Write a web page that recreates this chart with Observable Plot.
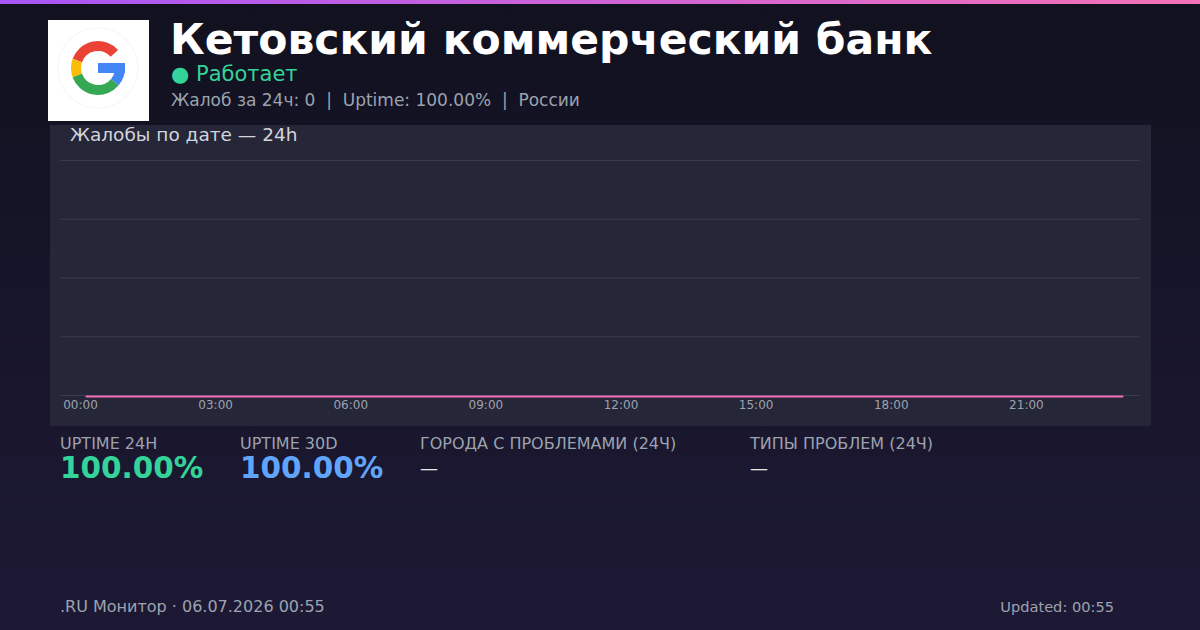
<!DOCTYPE html>
<html><head><meta charset="utf-8">
<script src="https://cdn.jsdelivr.net/npm/d3@7"></script>
<script src="https://cdn.jsdelivr.net/npm/@observablehq/plot@0.6"></script>
<style>
html,body{margin:0;padding:0;}
body{width:1200px;height:630px;overflow:hidden;font-family:"DejaVu Sans",sans-serif;}
#page{position:relative;width:1200px;height:630px;background:linear-gradient(180deg,#11111f 0%,#1d1935 100%);}
#topbar{position:absolute;left:0;top:0;width:1200px;height:4px;background:linear-gradient(90deg,#a855f7,#f472b6);}
#logo{position:absolute;left:48px;top:20px;width:101px;height:101px;background:#fff;}
#title{position:absolute;left:170px;top:19px;color:#fff;font-weight:bold;font-size:42.5px;line-height:42px;white-space:nowrap;}
#status{position:absolute;left:171px;top:62px;color:#34d399;font-size:21px;line-height:24px;}
#sub{position:absolute;left:171px;top:89px;color:#9ca3af;font-size:17px;line-height:22px;white-space:pre;}
#panel{position:absolute;left:50px;top:125px;width:1101px;height:301px;background:#262639;}
#ptitle{position:absolute;left:20px;top:-1px;color:#d1d5db;font-size:18.5px;line-height:22px;}
#chart{position:absolute;left:0;top:23px;}
.stat{position:absolute;top:434px;}
.stat .lab{color:#9ca3af;font-size:16px;line-height:19px;white-space:nowrap;}
.stat .val{font-size:29.5px;font-weight:bold;line-height:31px;}
.stat .dash{color:#e5e7eb;font-size:18px;line-height:29px;}
#foot{position:absolute;left:60px;top:597px;color:#9ca3af;font-size:16px;line-height:20px;}
#upd{position:absolute;right:86px;top:597px;color:#9ca3af;font-size:14.6px;line-height:20px;}
</style></head>
<body><div id="page">
<div id="topbar"></div>
<div id="logo"><svg width="101" height="101" viewBox="0 0 101 101">
<circle cx="50" cy="48" r="40" fill="#fff" stroke="#f8f8f8" stroke-width="1.5"/>
<g fill="none" stroke-width="10">
<path d="M66.35,33.28 A22,22 0 0 0 29.33,40.48" stroke="#ea4335"/>
<path d="M29.33,40.48 A22,22 0 0 0 29.33,55.52" stroke="#fbbc05"/>
<path d="M29.33,55.52 A22,22 0 0 0 66.85,62.14" stroke="#34a853"/>
<path d="M66.85,62.14 A22,22 0 0 0 72,48" stroke="#4285f4"/>
</g>
<rect x="50" y="43" width="27" height="10" fill="#4285f4"/>
</svg></div>
<div id="title">Кетовский коммерческий банк</div>
<div id="status">● Работает</div>
<div id="sub">Жалоб за 24ч: 0  |  Uptime: 100.00%  |  России</div>
<div id="panel"><div id="ptitle">Жалобы по дате — 24h</div><div id="chart"></div></div>
<div class="stat" style="left:60px"><div class="lab">UPTIME 24H</div><div class="val" style="color:#34d399">100.00%</div></div>
<div class="stat" style="left:240px"><div class="lab">UPTIME 30D</div><div class="val" style="color:#60a5fa">100.00%</div></div>
<div class="stat" style="left:420px"><div class="lab">ГОРОДА С ПРОБЛЕМАМИ (24Ч)</div><div class="dash">—</div></div>
<div class="stat" style="left:750px"><div class="lab">ТИПЫ ПРОБЛЕМ (24Ч)</div><div class="dash">—</div></div>
<div id="foot">.RU Монитор · 06.07.2026 00:55</div>
<div id="upd">Updated: 00:55</div>
</div>
<script>
const hours = [0,1,2,3,4,5,6,7,8,9,10,11,12,13,14,15,16,17,18,19,20,21,22,23];
const complaints = [0,0,0,0,0,0,0,0,0,0,0,0,0,0,0,0,0,0,0,0,0,0,0,0];
const tickHours = [0,3,6,9,12,15,18,21];
const tickLabels = ["00:00","03:00","06:00","09:00","12:00","15:00","18:00","21:00"];
const yGrid = [0,1,2,3,4];

const data = hours.map((h,i)=>({h, c: complaints[i]}));
const chart = Plot.plot({
  width: 1101, height: 278,
  marginLeft: 10, marginRight: 11, marginTop: 12, marginBottom: 31,
  style: {background: "transparent", fontFamily: "DejaVu Sans, sans-serif", fontSize: "12px", color: "#9ca3af"},
  x: {domain: [0, 23], insetLeft: 26, insetRight: 18},
  y: {domain: [0, 4], axis: null},
  marks: [
    Plot.ruleY(yGrid, {stroke: "#3a3a52", strokeWidth: 1}),
    Plot.axisX(tickHours, {tickSize: 0, tickPadding: 5, dx: -6, tickFormat: (d)=>tickLabels[tickHours.indexOf(d)], fill: "#9ca3af", label: null}),
    Plot.line(data, {x: "h", y: "c", stroke: "#f472b6", strokeWidth: 2, dy: 1})
  ]
});
document.getElementById("chart").appendChild(chart);
</script>
</body></html>
